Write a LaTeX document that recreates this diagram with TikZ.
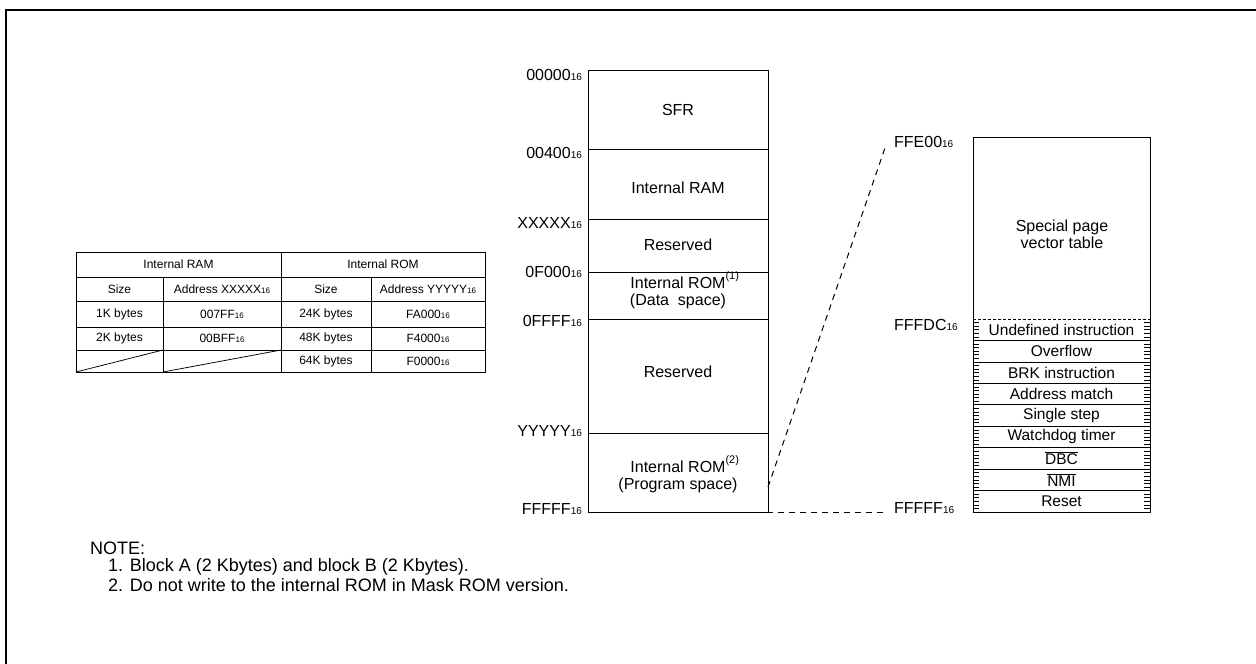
\documentclass[tikz,border=0pt]{standalone}
\usepackage{fontspec}
\setmainfont{Liberation Sans}
\newcommand{\hexa}[2][10]{#2{\fontsize{#1}{#1}\selectfont 16}}
\newcommand{\noteref}[1]{\rlap{\raisebox{0.55em}{\fontsize{11}{11}\selectfont(#1)}}}

\tikzset{every picture/.style={line width=0.75pt}}
\tikzset{
  maptext/.style={inner sep=0.75pt, align=center, font=\fontsize{16}{17}\selectfont},
  addrleft/.style={anchor=east, inner sep=0.75pt, font=\fontsize{16}{16}\selectfont},
  addrright/.style={anchor=west, inner sep=0.75pt, font=\fontsize{16}{16}\selectfont},
  tabtext/.style={inner sep=0.75pt, font=\fontsize{12}{12}\selectfont},
  vectext/.style={inner sep=0.75pt, font=\fontsize{15.5}{16}\selectfont},
  notetext/.style={anchor=west, inner sep=0.75pt, font=\fontsize{18}{18}\selectfont},
  dashlink/.style={line width=1pt, dash pattern=on 6pt off 5pt},
}

\begin{document}
\begin{tikzpicture}[x=1pt,y=1pt,yscale=-1,xscale=1]
\useasboundingbox (0,0) rectangle (1256,664);

%Frame
\draw [line width=2pt] (6,664) -- (6,10) -- (1256,10) ;

%Table of RAM / ROM sizes
\draw   (76,252) rectangle (485,372) ;
\draw   (76,277) -- (485,277) ;
\draw   (76,301) -- (485,301) ;
\draw   (76,327) -- (485,327) ;
\draw   (76,350) -- (485,350) ;
\draw   (163,277) -- (163,372) ;
\draw [line width=1pt]  (281,252) -- (281,372) ;
\draw   (371,277) -- (371,372) ;
\draw   (76,372) -- (163,350) ;
\draw   (163,372) -- (281,350) ;

% Table Text
\node [tabtext] (ramhead) at (178.5,264.5) {Internal RAM};
\node [tabtext] (romhead) at (383,264.5) {Internal ROM};
\node [tabtext] (ramsize) at (119.5,289) {Size};
\node [tabtext] (ramaddr) at (222,289) {Address \hexa[8]{XXXXX}};
\node [tabtext] (romsize) at (326,289) {Size};
\node [tabtext] (romaddr) at (428,289) {Address \hexa[8]{YYYYY}};
\node [tabtext] (ramsizea) at (119.5,314) {1K bytes};
\node [tabtext] (ramaddra) at (222,314) {\hexa[8]{007FF}};
\node [tabtext] (romsizea) at (326,314) {24K bytes};
\node [tabtext] (romaddra) at (428,314) {\hexa[8]{FA000}};
\node [tabtext] (ramsizeb) at (119.5,338.5) {2K bytes};
\node [tabtext] (ramaddrb) at (222,338.5) {\hexa[8]{00BFF}};
\node [tabtext] (romsizeb) at (326,338.5) {48K bytes};
\node [tabtext] (romaddrb) at (428,338.5) {\hexa[8]{F4000}};
\node [tabtext] (romsizec) at (326,361.5) {64K bytes};
\node [tabtext] (romaddrc) at (428,361.5) {\hexa[8]{F0000}};

%Memory map
\draw   (588,70) rectangle (768,512) ;
\draw   (588,149) -- (768,149) ;
\draw   (588,219) -- (768,219) ;
\draw   (588,272) -- (768,272) ;
\draw   (588,319) -- (768,319) ;
\draw   (588,433) -- (768,433) ;
\coordinate (mapside) at (768,487);
\coordinate (mapfoot) at (745,512);

% Map Text
\node [maptext] (sfr) at (678,110) {SFR};
\node [maptext] (iram) at (678,188) {Internal RAM};
\node [maptext] (resa) at (678,245) {Reserved};
\node [maptext] (drom) at (678,290) {Internal ROM\noteref{1}\\(Data\ \ space)};
\node [maptext] (resb) at (678,372) {Reserved};
\node [maptext] (prom) at (678,474) {Internal ROM\noteref{2}\\(Program space)};

% Address Text
\node [addrleft] (a0) at (583,75) {\hexa{00000}};
\node [addrleft] (a1) at (583,153) {\hexa{00400}};
\node [addrleft] (a2) at (583,223) {\hexa{XXXXX}};
\node [addrleft] (a3) at (583,272) {\hexa{0F000}};
\node [addrleft] (a4) at (583,321) {\hexa{0FFFF}};
\node [addrleft] (a5) at (583,431) {\hexa{YYYYY}};
\node [addrleft] (a6) at (583,509) {\hexa{FFFFF}};

%Vector table
\draw   (973,137) rectangle (1150,512) ;
\draw [dash pattern={on 3pt off 2pt}]  (973,319) -- (1150,319) ;
\foreach \k in {1,...,8}
  \draw   (973,{319+21.44*\k}) -- (1150,{319+21.44*\k}) ;
\foreach \k in {0,...,8}
  \foreach \j in {1,...,5} {
    \draw [line width=0.5pt]  (973,{319+21.44*(\k+\j/6)}) -- +(6,0) ;
    \draw [line width=0.5pt]  (1150,{319+21.44*(\k+\j/6)}) -- +(-6,0) ;
  }

% Vector Text
\node [maptext] (special) at (1062,234) {Special page\\vector table};
\foreach \lbl [count=\i from 0] in {Undefined instruction,Overflow,BRK instruction,Address match,Single step,Watchdog timer,{$\overline{\mbox{DBC}}$},{$\overline{\mbox{NMI}}$},Reset}
  \node [vectext] (vec\i) at (1061.5,{319+21.44*(\i+0.5)}) {\lbl};

\node [addrright] (fe00) at (893,142) {\hexa{FFE00}};
\node [addrright] (fffdc) at (893,325) {\hexa{FFFDC}};
\node [addrright] (fffff) at (893,508) {\hexa{FFFFF}};
\coordinate (vectop) at (886,145);
\coordinate (vecfoot) at (886,512);

%Dashed links
\draw [dashlink]  (mapside) -- (vectop) ;
\draw [dashlink]  (mapfoot) -- (vecfoot) ;

% Notes
\node [notetext] (note) at (89,548) {NOTE:};
\node [notetext] (notea) at (107,567) {1. Block A (2 Kbytes) and block B (2 Kbytes).};
\node [notetext] (noteb) at (107,585) {2. Do not write to the internal ROM in Mask ROM version.};
\end{tikzpicture}
\end{document}
